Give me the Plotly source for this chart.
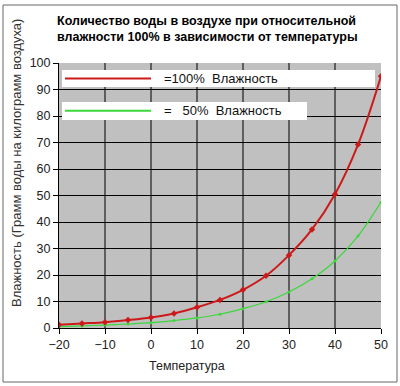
import plotly.graph_objects as go

temps = [-20, -15, -10, -5, 0, 5, 10, 15, 20, 25, 30, 35, 40, 45, 50]
hum100 = [1.2, 1.7, 2.2, 3.0, 4.0, 5.5, 7.8, 10.6, 14.4, 19.7, 27.5, 37.2, 50.5, 69.2, 95.0]
hum50 = [0.5, 0.8, 1.1, 1.5, 2.0, 2.8, 3.8, 5.2, 7.3, 9.9, 13.6, 18.6, 25.3, 34.7, 47.5]

title_lines = ["Количество воды в воздухе при относительной",
               "влажности 100% в зависимости от температуры"]
legend_labels = ["=100%  Влажность", "=   50%  Влажность"]
x_title = "Температура"
y_title = "Влажность (Грамм воды на килограмм воздуха)"
x_ticks = [-20, -10, 0, 10, 20, 30, 40, 50]
y_ticks = [0, 10, 20, 30, 40, 50, 60, 70, 80, 90, 100]

W, H = 400, 386
L, R, T, B = 59, 381, 63, 328

def px(x):
    return (x - L) / (R - L)

def py(y):
    return (B - y) / (B - T)

fig = go.Figure()
fig.add_trace(go.Scatter(x=temps, y=hum50, mode="lines+markers",
                         line=dict(color="#3ad83a", width=1.2, shape="spline"),
                         marker=dict(size=3, color="#3ad83a"), showlegend=False))
fig.add_trace(go.Scatter(x=temps, y=hum100, mode="lines+markers",
                         line=dict(color="#cc1a1a", width=2, shape="spline"),
                         marker=dict(size=5, color="#cc1a1a", symbol="diamond"), showlegend=False))

shapes = []
# outer frame
shapes.append(dict(type="rect", xref="paper", yref="paper",
                   x0=px(3), x1=px(397), y0=py(382), y1=py(5),
                   line=dict(color="#666666", width=1), fillcolor="rgba(0,0,0,0)", layer="below"))
# legend boxes
shapes.append(dict(type="rect", xref="paper", yref="paper",
                   x0=px(62), x1=px(375), y0=py(87), y1=py(70),
                   line=dict(width=0), fillcolor="white", layer="above"))
shapes.append(dict(type="rect", xref="paper", yref="paper",
                   x0=px(62), x1=px(307), y0=py(120), y1=py(102),
                   line=dict(width=0), fillcolor="white", layer="above"))
shapes.append(dict(type="line", xref="paper", yref="paper",
                   x0=px(65), x1=px(151), y0=py(78.5), y1=py(78.5),
                   line=dict(color="#cc1a1a", width=2)))
shapes.append(dict(type="line", xref="paper", yref="paper",
                   x0=px(65), x1=px(151), y0=py(110.8), y1=py(110.8),
                   line=dict(color="#3ad83a", width=2)))

annotations = []
annotations.append(dict(xref="paper", yref="paper", x=px(162), y=py(78.5),
                        text=legend_labels[0], showarrow=False, xanchor="left", yanchor="middle",
                        font=dict(family="Arial", size=13, color="#111")))
annotations.append(dict(xref="paper", yref="paper", x=px(162), y=py(110.8),
                        text=legend_labels[1].replace(" ", "&nbsp;"), showarrow=False, xanchor="left", yanchor="middle",
                        font=dict(family="Arial", size=13, color="#111")))
annotations.append(dict(xref="paper", yref="paper", x=px(55), y=py(29),
                        text="<b>" + title_lines[0] + "<br>" + title_lines[1] + "</b>",
                        showarrow=False, xanchor="left", yanchor="middle", align="left",
                        font=dict(family="Arial", size=12.5, color="#000")))
annotations.append(dict(xref="paper", yref="paper", x=px(187), y=py(366),
                        text=x_title, showarrow=False, xanchor="center", yanchor="middle",
                        font=dict(family="Arial", size=12.5, color="#222")))
annotations.append(dict(xref="paper", yref="paper", x=px(16), y=py(163),
                        text=y_title, showarrow=False, textangle=-90, xanchor="center", yanchor="middle",
                        font=dict(family="Arial", size=13, color="#333")))

fig.update_layout(
    width=W, height=H,
    margin=dict(l=L, r=W - R, t=T, b=H - B),
    paper_bgcolor="white", plot_bgcolor="#c0c0c0",
    shapes=shapes, annotations=annotations,
    xaxis=dict(range=[-20, 50], tickvals=x_ticks, showgrid=True, gridcolor="#5e5e5e", gridwidth=2,
               zeroline=False, showline=True, linecolor="#000", linewidth=1,
               ticks="outside", ticklen=5, tickcolor="#000",
               tickfont=dict(family="Arial", size=12.5, color="#222")),
    yaxis=dict(range=[0, 100], tickvals=y_ticks, showgrid=True, gridcolor="#000", gridwidth=1,
               zeroline=False, showline=True, linecolor="#000", linewidth=1,
               ticks="outside", ticklen=5, tickcolor="#000",
               tickfont=dict(family="Arial", size=12.5, color="#222")),
)

fig.write_html("out.html", config={"displayModeBar": False},
               post_script="document.body.style.margin='0';document.body.style.overflow='hidden';")
